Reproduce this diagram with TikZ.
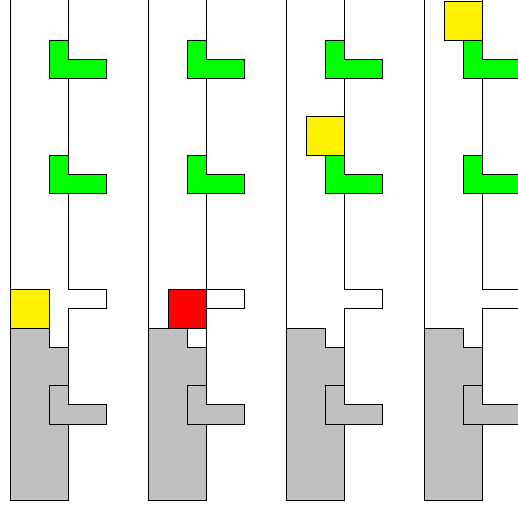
\documentclass[tikz,border=0pt]{standalone}
\definecolor{heapgrey}{RGB}{192,192,192}
\begin{document}
\begin{tikzpicture}[x=19.2pt,y=-19.2pt,
  wall/.style={line width=0.8pt,black},
  piece/.style={line width=0.8pt,draw=black},
  greenpiece/.style={piece,fill=green},
  greypiece/.style={piece,fill=heapgrey},
  greyfill/.style={fill=heapgrey},
  yellowbox/.style={piece,fill=yellow},
  redbox/.style={piece,fill=red}]
\clip (-0.557,-0.083) rectangle (26.42,26.22);
\fill[white] (-0.557,-0.083) rectangle (26.42,26.22);
\foreach \i in {0,1,2,3}{
  \begin{scope}[xshift=\i*138pt]
    % grey settled heap
    \fill[greyfill] (0,17) -- (2,17) -- (2,18) -- (3,18) -- (3,26) -- (0,26) -- cycle;
    \draw[greypiece] (2,20) -- (3,20) -- (3,21) -- (5,21) -- (5,22) -- (2,22) -- cycle;
    \draw[wall] (0,17) -- (2,17) -- (2,18) -- (3,18);
    % green pieces
    \draw[greenpiece] (2,2) -- (3,2) -- (3,3) -- (5,3) -- (5,4) -- (2,4) -- cycle;
    \draw[greenpiece] (2,8) -- (3,8) -- (3,9) -- (5,9) -- (5,10) -- (2,10) -- cycle;
    % walls
    \draw[wall] (0,-0.5) -- (0,26) -- (3,26);
    \draw[wall] (3,-0.5) -- (3,2);
    \draw[wall] (3,4) -- (3,8);
    \draw[wall] (3,10) -- (3,15) -- (5,15) -- (5,16) -- (3,16) -- (3,21);
    \draw[wall] (3,22) -- (3,26);
  \end{scope}
}
\draw[yellowbox] (0,15) rectangle (2,17);
\begin{scope}[xshift=138pt]
  \draw[redbox] (1,15) rectangle (3,17);
\end{scope}
\begin{scope}[xshift=276pt]
  \draw[yellowbox] (1,6) rectangle (3,8);
\end{scope}
\begin{scope}[xshift=414pt]
  \draw[yellowbox] (1,0) rectangle (3,2);
\end{scope}
\end{tikzpicture}
\end{document}
